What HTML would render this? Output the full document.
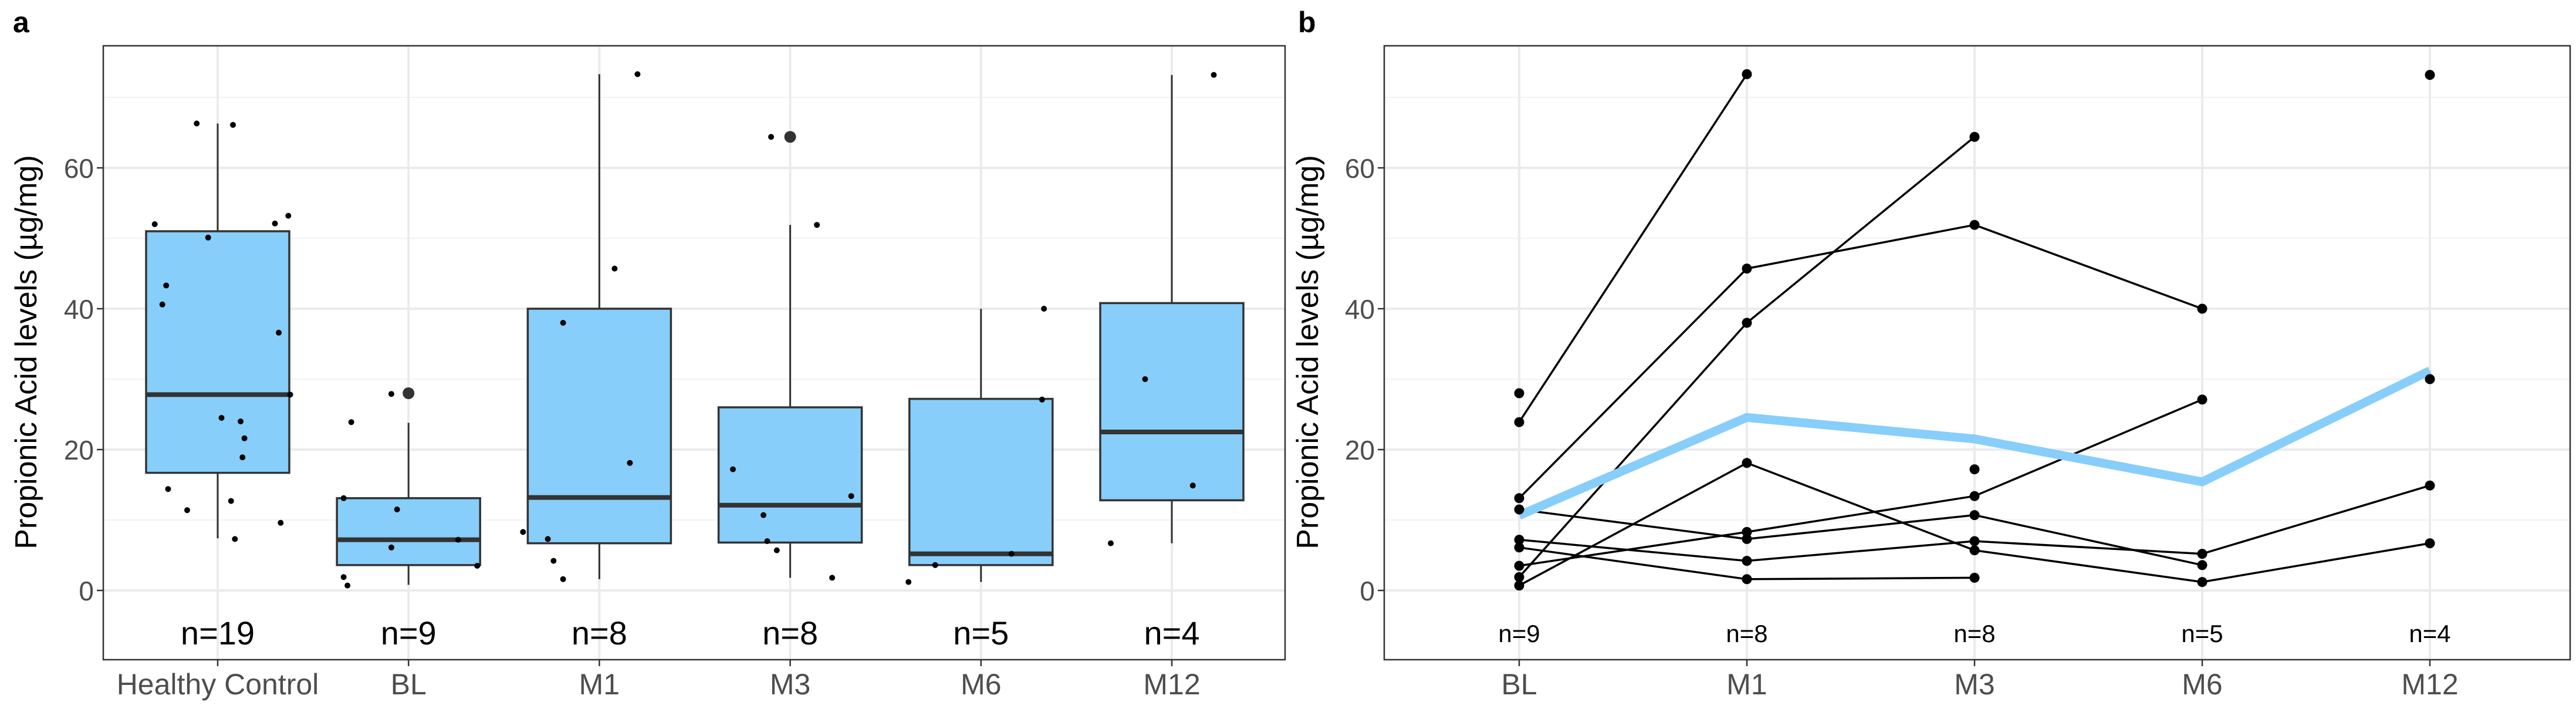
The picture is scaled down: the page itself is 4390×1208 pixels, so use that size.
<!DOCTYPE html>
<html><head><meta charset="utf-8"><style>
html,body{margin:0;padding:0;background:#fff;}
svg{display:block;font-family:"Liberation Sans",sans-serif;}
</style></head><body>
<svg id="chart" width="4390" height="1208" viewBox="0 0 4390 1208" xmlns="http://www.w3.org/2000/svg">
<text x="22" y="55" font-size="50" font-weight="bold">a</text>
<text x="2212" y="55" font-size="50" font-weight="bold">b</text>
<g id="pa"></g>
<g id="pb"></g>
</svg>
<script>
// ---- Panel a data ----
const catsA = ["Healthy Control","BL","M1","M3","M6","M12"];
const nA = ["n=19","n=9","n=8","n=8","n=5","n=4"];
const q1A = [16.7,3.6,6.7,6.8,3.6,12.8];
const medA = [27.8,7.2,13.2,12.1,5.2,22.5];
const q3A = [51.0,13.1,40.0,26.0,27.2,40.8];
const loA = [7.4,0.8,1.6,1.8,1.2,6.7];
const hiA = [66.3,23.8,73.3,51.9,40.0,73.2];
const outCat = [1,3];
const outVal = [28.0,64.4];
const ptCat = [0,0,0,0,0,0,0,0,0,0,0,0,0,0,0,0,0,0,0, 1,1,1,1,1,1,1,1,1, 2,2,2,2,2,2,2,2, 3,3,3,3,3,3,3,3, 4,4,4,4,4, 5,5,5,5];
const ptVal = [66.3,66.1,52.0,50.1,52.1,53.2,43.3,40.6,36.6,24.5,24.0,21.6,18.9,14.4,12.7,11.4,9.6,7.3,27.8,
 27.9,23.9,13.1,11.5,7.2,6.1,3.5,1.9,0.7,
 73.3,45.7,38.0,18.1,8.3,7.3,4.2,1.6,
 64.4,51.9,17.2,13.4,10.7,7.0,5.7,1.8,
 40.0,27.1,5.2,3.6,1.2,
 73.2,30.0,14.9,6.7];
const ptJit = [-0.11,0.08,-0.33,-0.05,0.3,0.37,-0.27,-0.29,0.32,0.02,0.12,0.14,0.13,-0.26,0.07,-0.16,0.33,0.09,0.38,
 -0.09,-0.3,-0.34,-0.06,0.26,-0.09,0.36,-0.34,-0.32,
 0.2,0.08,-0.19,0.16,-0.4,-0.27,-0.24,-0.19,
 -0.1,0.14,-0.3,0.32,-0.14,-0.12,-0.07,0.22,
 0.33,0.32,0.16,-0.24,-0.38,
 0.22,-0.14,0.11,-0.32];
// ---- Panel b data ----
const catsB = ["BL","M1","M3","M6","M12"];
const nB = ["n=9","n=8","n=8","n=5","n=4"];
const s1 = [23.9,73.3,null,null,null];
const s2 = [13.1,45.7,51.9,40.0,null];
const s3 = [1.9,38.0,64.4,null,null];
const s4 = [11.5,7.3,10.7,3.6,null];
const s5 = [3.5,8.3,13.4,27.1,null];
const s6 = [7.2,4.2,7.0,5.2,14.9];
const s7 = [6.1,1.6,1.8,null,null];
const s8 = [0.7,18.1,5.7,1.2,6.7];
const s9 = [28.0,null,null,null,null];
const s10 = [null,null,17.2,null,null];
const s11 = [null,null,null,null,73.2];
const s12 = [null,null,null,null,30.0];
const subjects = [s1,s2,s3,s4,s5,s6,s7,s8,s9,s10,s11,s12];
const yTicks = [0,20,40,60];
const yMinor = [10,30,50,70];

const NS="http://www.w3.org/2000/svg";
function mk(parent,tag,attrs){const e=document.createElementNS(NS,tag);for(const k in attrs)e.setAttribute(k,attrs[k]);parent.appendChild(e);return e;}
const Y0=1006, PXU=12.0;
function y(v){return Y0 - v*PXU;}
const TOPY=78, BOTY=1124;

function frame(g,L,R,cats,xf,ns,nsize){
  mk(g,'rect',{x:L,y:TOPY,width:R-L,height:BOTY-TOPY,fill:'#fff'});
  yMinor.forEach(t=>{const l=mk(g,'line',{x1:L,x2:R,y1:y(t),y2:y(t),stroke:'#f2f2f2','stroke-width':2});
    
    });
  yTicks.forEach(t=>{const l=mk(g,'line',{x1:L,x2:R,y1:y(t),y2:y(t),stroke:'#ebebeb','stroke-width':4});
    
    
    const tk=mk(g,'line',{x1:L-11,x2:L,y1:y(t),y2:y(t),stroke:'#333','stroke-width':2.5});
    
    
    const tx=mk(g,'text',{x:L-16,y:y(t)+17,'text-anchor':'end','font-size':46,fill:'#4d4d4d'});tx.textContent=t;
    
    });
  cats.forEach((c,i)=>{const x=xf(i);
    const l=mk(g,'line',{x1:x,x2:x,y1:TOPY,y2:BOTY,stroke:'#ebebeb','stroke-width':4});
    
    
    const tk=mk(g,'line',{x1:x,x2:x,y1:BOTY,y2:BOTY+11,stroke:'#333','stroke-width':2.5});
    
    
    const tx=mk(g,'text',{x:x,y:1183,'text-anchor':'middle','font-size':50,fill:'#4d4d4d'});tx.textContent=c;
    
    
    const nt=mk(g,'text',{x:x,y:nsize>50?1098:1094,'text-anchor':'middle','font-size':nsize,fill:'#000'});nt.textContent=ns[i];
    
    });
}
function border(g,L,R){const b=mk(g,'rect',{x:L,y:TOPY,width:R-L,height:BOTY-TOPY,fill:'none',stroke:'#333','stroke-width':2.5});
  
  }
function ytitle(g,x){const t=mk(g,'text',{x:x,y:600,'text-anchor':'middle','font-size':52,fill:'#000',transform:`rotate(-90 ${x} 600)`});
  t.textContent='Propionic Acid levels (µg/mg)';
  
  }

// Panel a
const ga=document.getElementById('pa');
const LA=176,RA=2190;
function xa(i){return 371+i*325.2;}
frame(ga,LA,RA,catsA,xa,nA,56);
const BW=122;
catsA.forEach((c,i)=>{const x=xa(i);
  const w=mk(ga,'line',{x1:x,x2:x,y1:y(hiA[i]),y2:y(q3A[i]),stroke:'#333','stroke-width':3});
  
  
  const w2=mk(ga,'line',{x1:x,x2:x,y1:y(q1A[i]),y2:y(loA[i]),stroke:'#333','stroke-width':3});
  
  
  const r=mk(ga,'rect',{x:x-BW,y:y(q3A[i]),width:2*BW,height:y(q1A[i])-y(q3A[i]),fill:'#87cefa',stroke:'#333','stroke-width':3.5});
  
  
  const m=mk(ga,'line',{x1:x-BW,x2:x+BW,y1:y(medA[i]),y2:y(medA[i]),stroke:'#333','stroke-width':8});
  
  
});
outCat.forEach((c,k)=>{const o=mk(ga,'circle',{cx:xa(c),cy:y(outVal[k]),r:10,fill:'#333'});
  
  });
ptVal.forEach((v,k)=>{const p=mk(ga,'circle',{cx:xa(ptCat[k])+ptJit[k]*325.2,cy:y(v),r:5,fill:'#000'});
  
  });
border(ga,LA,RA);
ytitle(ga,62);

// Panel b
const gb=document.getElementById('pb');
const LB=2359,RB=4380;
function xb(i){return 2589+i*388;}
frame(gb,LB,RB,catsB,xb,nB,42);
subjects.forEach(s=>{for(let i=0;i<s.length-1;i++){if(s[i]!=null&&s[i+1]!=null){
  const l=mk(gb,'line',{x1:xb(i),y1:y(s[i]),x2:xb(i+1),y2:y(s[i+1]),stroke:'#000','stroke-width':3.5});
  
  }}});
const means=catsB.map((c,i)=>{const v=subjects.map(s=>s[i]).filter(z=>z!=null);return v.reduce((a,b)=>a+b,0)/v.length;});
const mp=mk(gb,'polyline',{points:means.map((m,i)=>xb(i)+','+y(m)).join(' '),fill:'none',stroke:'#87cefa','stroke-width':15});


subjects.forEach(s=>s.forEach((v,i)=>{if(v!=null){const p=mk(gb,'circle',{cx:xb(i),cy:y(v),r:8.5,fill:'#000'});
  
  }}));
border(gb,LB,RB);
ytitle(gb,2246);
</script>
</body></html>
